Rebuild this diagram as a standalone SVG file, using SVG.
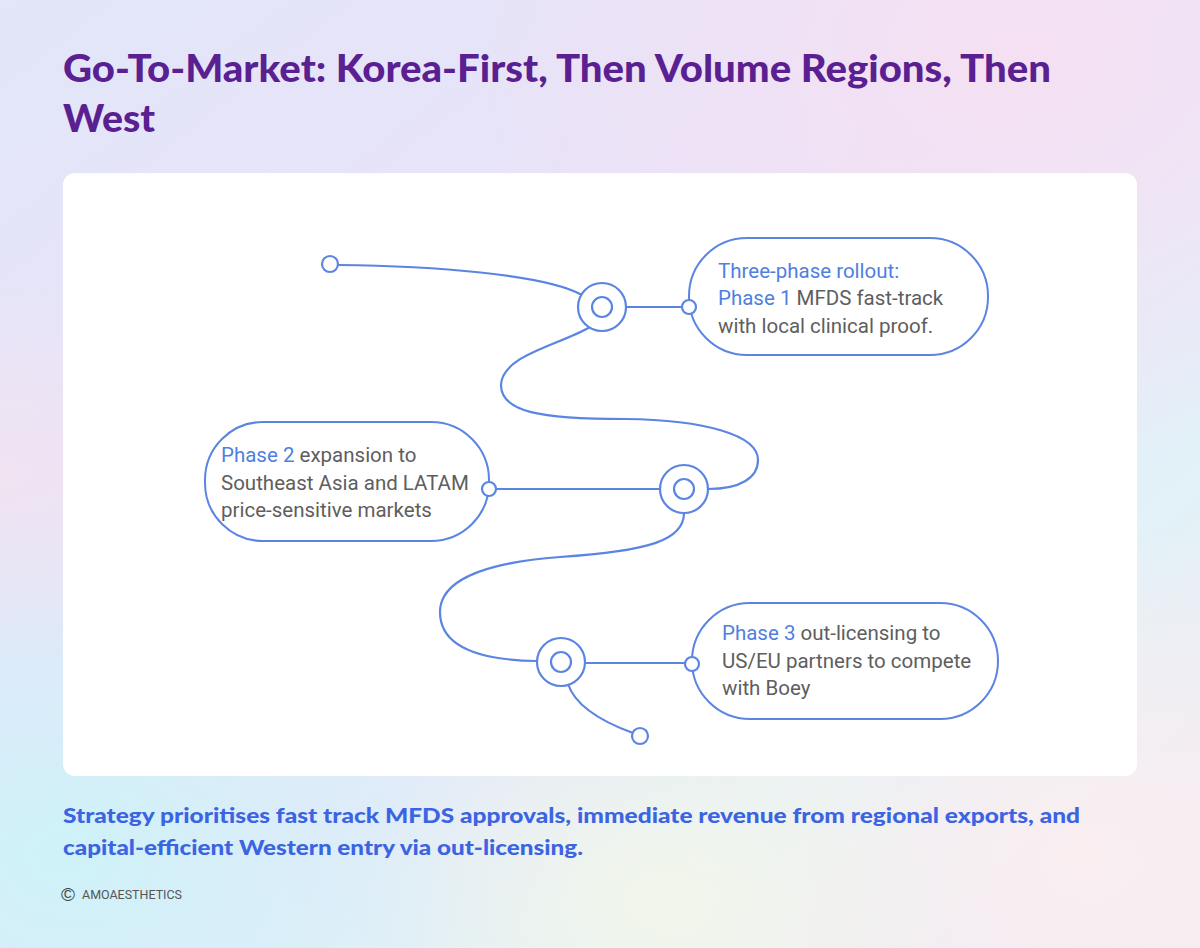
<svg xmlns="http://www.w3.org/2000/svg" width="1200" height="948" viewBox="0 0 1200 948">
<defs>
<linearGradient id="bg" x1="0" y1="0" x2="1" y2="1">
<stop offset="0" stop-color="#e2e6f8"/>
<stop offset="0.45" stop-color="#ebe2f8"/>
<stop offset="0.75" stop-color="#e2f2f8"/>
<stop offset="1" stop-color="#f3eaf2"/>
</linearGradient>
<radialGradient id="g1" cx="0.85" cy="0.05" r="0.45">
<stop offset="0" stop-color="#f6e0f2" stop-opacity="0.9"/>
<stop offset="1" stop-color="#f6e0f2" stop-opacity="0"/>
</radialGradient>
<radialGradient id="g2" cx="0.05" cy="0.9" r="0.4">
<stop offset="0" stop-color="#ccf3f8" stop-opacity="0.95"/>
<stop offset="1" stop-color="#ccf3f8" stop-opacity="0"/>
</radialGradient>
<radialGradient id="g3" cx="0.9" cy="0.9" r="0.35">
<stop offset="0" stop-color="#fbeef0" stop-opacity="0.9"/>
<stop offset="1" stop-color="#fbeef0" stop-opacity="0"/>
</radialGradient>
<radialGradient id="g4" cx="0.0" cy="0.5" r="0.2">
<stop offset="0" stop-color="#f4e2ee" stop-opacity="0.7"/>
<stop offset="1" stop-color="#f4e2ee" stop-opacity="0"/>
</radialGradient>
<radialGradient id="g5" cx="0.55" cy="0.95" r="0.25">
<stop offset="0" stop-color="#f6f6e6" stop-opacity="0.8"/>
<stop offset="1" stop-color="#f6f6e6" stop-opacity="0"/>
</radialGradient>
<style>
.ln{fill:none;stroke:#5b85e2;stroke-width:2.2;stroke-linecap:round}
.ring{fill:#fff;stroke:#5b85e2;stroke-width:2.2}
.box{fill:#fff;stroke:#5b85e2;stroke-width:2}
.t{font-family:Roboto,"Liberation Sans",sans-serif;font-size:20.5px;fill:#5e5e5e}
.b{fill:#4f7fe0}
.title{font-family:Lato,"Liberation Sans",sans-serif;font-weight:900;font-size:37px;fill:#5a1f91}
.sum{font-family:Lato,"Liberation Sans",sans-serif;font-weight:900;font-size:21px;fill:#3b64e3}
.foot{font-family:Roboto,"Liberation Sans",sans-serif;font-size:13px;fill:#555}
</style>
</defs>
<rect width="1200" height="948" fill="url(#bg)"/>
<rect width="1200" height="948" fill="url(#g1)"/>
<rect width="1200" height="948" fill="url(#g2)"/>
<rect width="1200" height="948" fill="url(#g3)"/>
<rect width="1200" height="948" fill="url(#g4)"/>
<rect width="1200" height="948" fill="url(#g5)"/>

<text class="title" x="63" y="82" textLength="988" lengthAdjust="spacingAndGlyphs">Go-To-Market: Korea-First, Then Volume Regions, Then</text>
<text class="title" x="63" y="132" textLength="92" lengthAdjust="spacingAndGlyphs">West</text>

<rect x="63" y="173" width="1074" height="603" rx="12" fill="#fff"/>

<g id="connectors">
<path class="ln" d="M 338 265 C 430 266, 545 274, 582 295"/>
<path class="ln" d="M 590 327 C 560 345, 502 355, 501 385 C 501 412, 540 419, 625 419 C 705 420, 758 435, 758 460 C 758 478, 740 489, 708 489"/>
<path class="ln" d="M 684 513 C 684 540, 650 551, 560 557 C 480 563, 440 582, 440 612 C 440 642, 470 660, 537 661"/>
<path class="ln" d="M 568 684 C 575 705, 600 721, 633 733"/>
<line class="ln" x1="626" y1="307" x2="682" y2="307"/>
<line class="ln" x1="496" y1="489" x2="660" y2="489"/>
<line class="ln" x1="585" y1="663" x2="685" y2="663"/>
</g>

<g id="start"><circle class="ring" cx="330" cy="264" r="8"/></g>
<g id="end"><circle class="ring" cx="640" cy="736" r="8"/></g>

<g id="node1">
<circle class="ring" cx="602" cy="307" r="24"/>
<circle class="ring" cx="602" cy="307" r="10"/>
</g>
<g id="node2">
<circle class="ring" cx="684" cy="489" r="24"/>
<circle class="ring" cx="684" cy="489" r="10"/>
</g>
<g id="node3">
<circle class="ring" cx="561" cy="662" r="24"/>
<circle class="ring" cx="561" cy="662" r="10"/>
</g>

<g id="box1">
<rect class="box" x="689" y="238" width="299" height="117" rx="58"/>
<circle class="ring" cx="689" cy="307" r="7"/>
<text class="t" x="718" y="278"><tspan class="b">Three-phase rollout:</tspan></text>
<text class="t" x="718" y="305"><tspan class="b">Phase 1</tspan> MFDS fast-track</text>
<text class="t" x="718" y="333">with local clinical proof.</text>
</g>

<g id="box2">
<rect class="box" x="205" y="422" width="284" height="119" rx="58"/>
<circle class="ring" cx="489" cy="489" r="7"/>
<text class="t" x="221" y="462"><tspan class="b">Phase 2</tspan> expansion to</text>
<text class="t" x="221" y="490">Southeast Asia and LATAM</text>
<text class="t" x="221" y="517">price-sensitive markets</text>
</g>

<g id="box3">
<rect class="box" x="692" y="603" width="306" height="116" rx="58"/>
<circle class="ring" cx="692" cy="664" r="7"/>
<text class="t" x="722" y="640"><tspan class="b">Phase 3</tspan> out-licensing to</text>
<text class="t" x="722" y="668">US/EU partners to compete</text>
<text class="t" x="722" y="695">with Boey</text>
</g>

<text class="sum" x="63" y="823" textLength="1017" lengthAdjust="spacingAndGlyphs">Strategy prioritises fast track MFDS approvals, immediate revenue from regional exports, and</text>
<text class="sum" x="63" y="855" textLength="520" lengthAdjust="spacingAndGlyphs">capital-efficient Western entry via out-licensing.</text>

<text x="61" y="901" font-family="'Liberation Sans',sans-serif" font-size="19" fill="#444">©</text>
<text class="foot" x="82" y="899" textLength="100" lengthAdjust="spacingAndGlyphs">AMOAESTHETICS</text>
</svg>
